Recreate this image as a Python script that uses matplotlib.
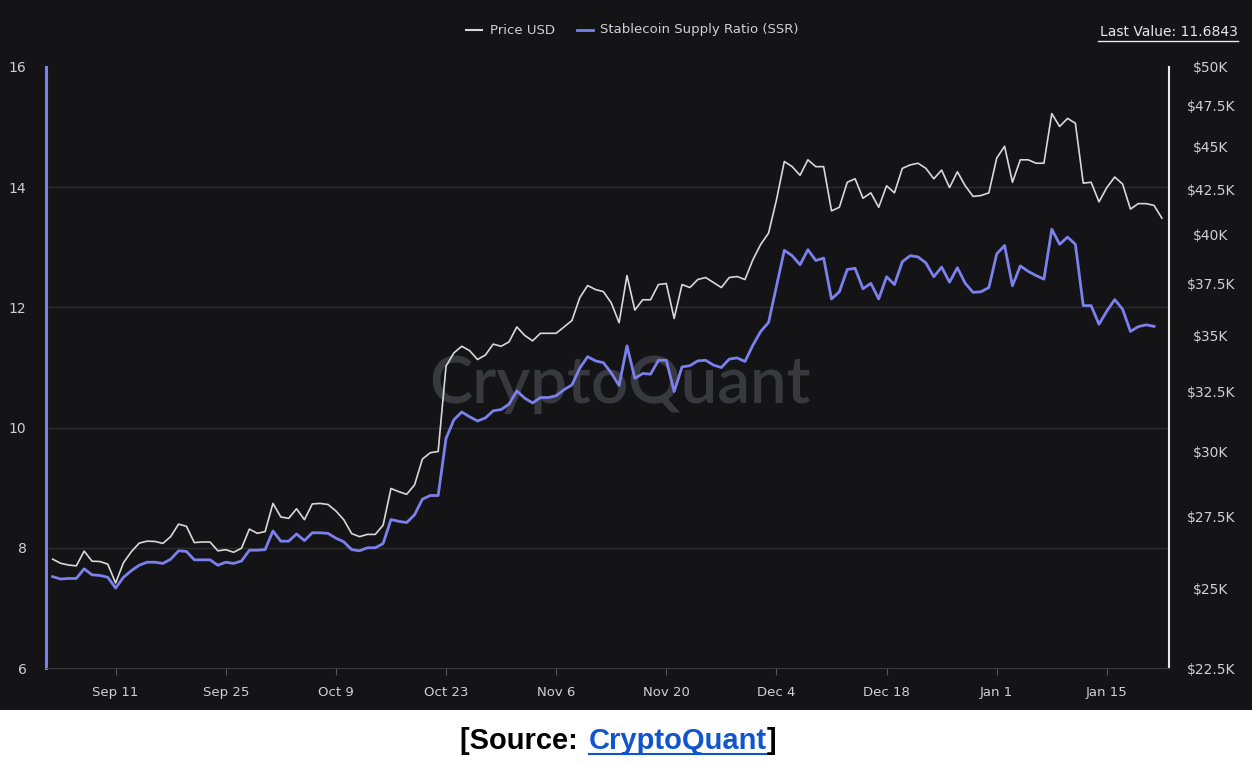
import matplotlib
matplotlib.use("Agg")
import matplotlib.pyplot as plt
import matplotlib.dates as mdates
from matplotlib.ticker import FixedLocator, NullLocator
import numpy as np
import pandas as pd

start_date = "2023-09-03"
ssr = [7.52,7.48,7.49,7.49,7.65,7.55,7.54,7.51,7.33,7.51,7.62,7.71,7.76,7.76,7.74,7.81,7.95,7.94,7.80,7.80,
       7.80,7.71,7.76,7.74,7.78,7.96,7.96,7.97,8.28,8.11,8.11,8.23,8.12,8.25,8.25,8.24,8.16,8.10,7.97,7.95,
       8.00,8.00,8.07,8.47,8.44,8.42,8.55,8.81,8.87,8.87,9.82,10.13,10.26,10.18,10.11,10.16,10.28,10.30,10.39,10.61,
       10.49,10.41,10.50,10.50,10.53,10.63,10.71,10.99,11.18,11.11,11.08,10.91,10.70,11.36,10.82,10.90,10.89,11.12,11.12,10.60,
       11.01,11.03,11.11,11.12,11.04,11.00,11.14,11.16,11.10,11.37,11.60,11.75,12.35,12.95,12.86,12.71,12.96,12.78,12.82,12.14,
       12.26,12.63,12.65,12.31,12.40,12.14,12.51,12.38,12.76,12.86,12.84,12.74,12.51,12.67,12.42,12.66,12.40,12.25,12.26,12.33,
       12.89,13.03,12.36,12.69,12.60,12.53,12.47,13.30,13.05,13.17,13.05,12.03,12.03,11.72,11.94,12.13,11.97,11.60,11.68,11.71,
       11.6843]
price_k = [26.0,25.86,25.8,25.77,26.28,25.93,25.92,25.83,25.19,25.88,26.26,26.56,26.63,26.62,26.55,26.79,27.24,27.16,26.58,26.6,
           26.6,26.29,26.33,26.24,26.38,27.06,26.91,26.97,28.0,27.5,27.45,27.8,27.4,27.98,28.0,27.96,27.72,27.4,26.9,26.79,
           26.87,26.87,27.2,28.56,28.44,28.34,28.7,29.7,29.95,30.0,33.6,34.2,34.5,34.3,33.9,34.1,34.6,34.5,34.7,35.4,
           35.0,34.75,35.1,35.1,35.1,35.4,35.7,36.8,37.4,37.2,37.1,36.55,35.6,37.9,36.2,36.7,36.7,37.45,37.5,35.8,
           37.45,37.3,37.7,37.8,37.55,37.3,37.8,37.85,37.7,38.7,39.5,40.1,41.9,44.1,43.8,43.3,44.2,43.8,43.8,41.3,
           41.5,42.9,43.1,42.0,42.3,41.5,42.7,42.3,43.7,43.9,44.0,43.7,43.1,43.6,42.6,43.5,42.7,42.1,42.15,42.3,
           44.3,45.0,42.9,44.2,44.2,44.0,44.0,47.0,46.2,46.7,46.4,42.85,42.9,41.8,42.6,43.2,42.8,41.4,41.7,41.7,
           41.6,40.9]
left_ticks = [6, 8, 10, 12, 14, 16]
right_ticks_k = [22.5, 25, 27.5, 30, 32.5, 35, 37.5, 40, 42.5, 45, 47.5, 50]
right_labels = ["$22.5K","$25K","$27.5K","$30K","$32.5K","$35K","$37.5K","$40K","$42.5K","$45K","$47.5K","$50K"]
x_tick_dates = ["2023-09-11","2023-09-25","2023-10-09","2023-10-23","2023-11-06","2023-11-20",
                "2023-12-04","2023-12-18","2024-01-01","2024-01-15"]
x_tick_labels = ["Sep 11","Sep 25","Oct 9","Oct 23","Nov 6","Nov 20","Dec 4","Dec 18","Jan 1","Jan 15"]

d_ssr = pd.date_range(start_date, periods=len(ssr), freq="D")
d_price = pd.date_range(start_date, periods=len(price_k), freq="D")

W, H = 1252, 766
BG = "#141417"
PURPLE = "#7b80ec"
fig = plt.figure(figsize=(W/100, H/100), dpi=100)
fig.patch.set_facecolor("white")
fig.patches.append(plt.Rectangle((0, 1-710/H), 1, 710/H, transform=fig.transFigure,
                                 facecolor=BG, edgecolor="none", zorder=-10))

ax = fig.add_axes([46/W, 1-668/H, (1169-46)/W, (668-67)/H])
ax2 = ax.twinx()
ax2.set_zorder(1)
ax.set_zorder(2)
ax.patch.set_visible(False)
ax2.patch.set_facecolor(BG)

x0 = pd.Timestamp(start_date) - pd.Timedelta(days=0.85)
x1 = pd.Timestamp(start_date) + pd.Timedelta(days=141.9)

ax.set_ylim(6, 16)
ax.yaxis.set_major_locator(FixedLocator(left_ticks))
ax.set_yticklabels([str(t) for t in left_ticks])
for t in left_ticks[1:-1]:
    ax2.axhline(np.exp(np.log(22.5) + (t-6)/10*np.log(50/22.5)), color="#2c2c31", lw=1, zorder=0)
ax.plot(d_ssr, ssr, color=PURPLE, lw=2, zorder=3)

ax2.set_yscale("log")
ax2.set_ylim(22.5, 50)
ax2.yaxis.set_major_locator(FixedLocator(right_ticks_k))
ax2.yaxis.set_minor_locator(NullLocator())
ax2.set_yticklabels(right_labels)
ax2.plot(d_price, price_k, color="#d8d8d8", lw=1.2, zorder=2)
ax2.text((620-46)/(1169-46), (668-384)/(668-67), "CryptoQuant", transform=ax2.transAxes,
         color="#38383f", fontsize=47, ha="center", va="center",
         fontfamily="Lato", fontweight="semibold", zorder=1)

ax.set_xlim(x0, x1)
ax.xaxis.set_major_locator(FixedLocator(mdates.date2num(pd.to_datetime(x_tick_dates))))
ax.set_xticklabels(x_tick_labels)

for a in (ax, ax2):
    for s in a.spines.values():
        s.set_visible(False)
ax.spines["left"].set_visible(True); ax.spines["left"].set_color(PURPLE); ax.spines["left"].set_linewidth(2.2)
ax.spines["right"].set_visible(True); ax.spines["right"].set_color("#e8e8e8"); ax.spines["right"].set_linewidth(1.5)
ax.spines["bottom"].set_visible(True); ax.spines["bottom"].set_color("#3a3a40")

ax.tick_params(axis="y", colors="#d0d0d0", labelsize=10, length=0, pad=14)
ax.tick_params(axis="x", colors="#555560", labelcolor="#d0d0d0", labelsize=9.5, length=5, pad=8)
ax2.tick_params(axis="y", colors="#d0d0d0", labelsize=10, length=0, pad=30)
for lbl in ax2.get_yticklabels():
    lbl.set_horizontalalignment("center")

# legend
fig.add_artist(plt.Line2D([466/W, 482/W], [1-30/H]*2, color="#d8d8d8", lw=1.5))
fig.text(490/W, 1-30/H, "Price USD", color="#d0d0d0", fontsize=9.5, va="center")
fig.add_artist(plt.Line2D([577/W, 593/W], [1-30/H]*2, color=PURPLE, lw=2))
fig.text(600/W, 1-30/H, "Stablecoin Supply Ratio (SSR)", color="#d0d0d0", fontsize=9.5, va="center")
fig.text(1238/W, 1-32/H, "Last Value: 11.6843", color="#e8e8e8", fontsize=10, fontweight="medium",
         ha="right", va="center")
fig.add_artist(plt.Line2D([1098/W, 1238/W], [1-41/H]*2, color="#e8e8e8", lw=1))

# source
fig.text(586/W, 1-741/H, "[Source: ", color="black", fontsize=21, fontweight="bold",
         fontfamily="Liberation Sans", ha="right", va="center")
fig.text(589/W, 1-741/H, "CryptoQuant", color="#1155cc", fontsize=21, fontweight="bold",
         fontfamily="Liberation Sans", ha="left", va="center")
fig.text(767/W, 1-741/H, "]", color="black", fontsize=21, fontweight="bold",
         fontfamily="Liberation Sans", ha="left", va="center")
fig.add_artist(plt.Line2D([589/W, 767/W], [1-754/H]*2, color="#1155cc", lw=1.5))

fig.savefig("out.png", dpi=100, facecolor=fig.get_facecolor())
